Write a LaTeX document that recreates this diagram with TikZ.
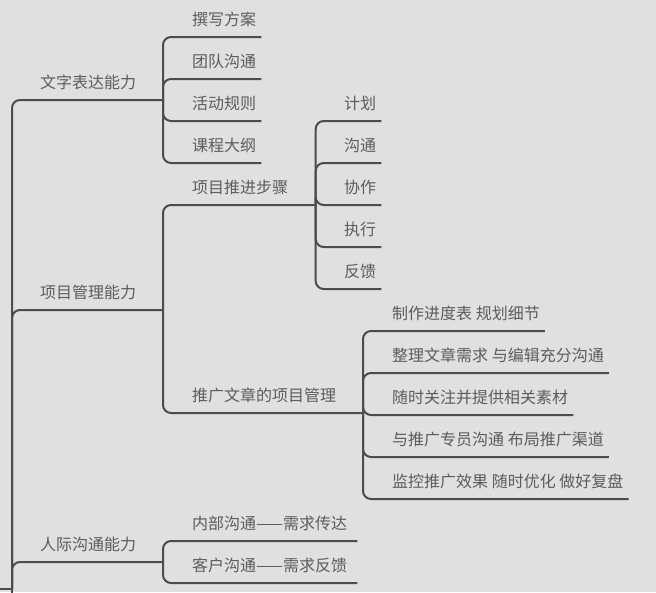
\documentclass[tikz,border=0pt]{standalone}
\usepackage{fontspec}
\setmainfont{Noto Sans CJK SC}
\usetikzlibrary{positioning}
\definecolor{canvas}{RGB}{224,224,224}
\definecolor{branchgray}{RGB}{76,76,76}
\definecolor{textgray}{RGB}{92,92,92}

\begin{document}
\begin{tikzpicture}[
  x=1pt, y=-1pt,
  font=\fontsize{16}{19}\selectfont,
  topic/.style={anchor=south west, inner xsep=5pt, inner ysep=0pt,
                text height=13pt, text depth=11pt, text=textgray},
  branch/.style={draw=branchgray, line width=2pt, rounded corners=8pt},
]
\fill[canvas] (0,0) rectangle (656,592);
\useasboundingbox (0,0) rectangle (656,592);
\clip (0,0) rectangle (656,592);

% junctions
\coordinate (root)       at (-20,589);
\coordinate (rootj)      at (12,589);
\coordinate (rootcut)    at (12,610);
\coordinate (wenzi-j)    at (163,100);
\coordinate (xiangmu-j)  at (163,310);
\coordinate (renji-j)    at (163,562);
\coordinate (tuijin-j)   at (315.7,205);
\coordinate (tuiguang-j) at (363,413);

% first level
\node[topic] (wenzi)   at (35,100) {文字表达能力};
\node[topic] (xiangmu) at (35,310) {项目管理能力};
\node[topic] (renji)   at (35,562) {人际沟通能力};

% second level
\node[topic] (zhuanxie) at (187,37)  {撰写方案};
\node[topic] (tuandui)  at (187,79)  {团队沟通};
\node[topic] (huodong)  at (187,121) {活动规则};
\node[topic] (kecheng)  at (187,163) {课程大纲};
\node[topic] (tuijin)   at (187,205) {项目推进步骤};
\node[topic] (tuiguang) at (187,413) {推广文章的项目管理};
\node[topic, text width=160pt] (neibu) at (187,541) {内部沟通——需求传达};
\node[topic, text width=160pt] (kehu)  at (187,583) {客户沟通——需求反馈};

% third level
\node[topic] (jihua)   at (339,121) {计划};
\node[topic] (goutong) at (339,163) {沟通};
\node[topic] (xiezuo)  at (339,205) {协作};
\node[topic] (zhixing) at (339,247) {执行};
\node[topic] (fankui)  at (339,289) {反馈};
\node[topic] (jindu)   at (387,331) {制作进度表 规划细节};
\node[topic] (xuqiu)   at (387,373) {整理文章需求 与编辑充分沟通};
\node[topic] (sucai)   at (387,415) {随时关注并提供相关素材};
\node[topic] (qudao)   at (387,457) {与推广专员沟通 布局推广渠道};
\node[topic] (fupan)   at (387,499) {监控推广效果 随时优化 做好复盘};

\draw[branch] (root) -- (rootj);
\draw[branch] (rootj) -- (rootcut);
\draw[branch] (rootj) |- (wenzi-j);
\draw[branch] (rootj) |- (xiangmu-j);
\draw[branch] (rootj) |- (renji-j);

\draw[branch] (wenzi-j) |- (zhuanxie.south east);
\draw[branch] (wenzi-j) |- (tuandui.south east);
\draw[branch] (wenzi-j) |- (huodong.south east);
\draw[branch] (wenzi-j) |- (kecheng.south east);

\draw[branch] (xiangmu-j) |- (tuijin-j);
\draw[branch] (xiangmu-j) |- (tuiguang-j);

\draw[branch] (tuijin-j) |- (jihua.south east);
\draw[branch] (tuijin-j) |- (goutong.south east);
\draw[branch] (tuijin-j) |- (xiezuo.south east);
\draw[branch] (tuijin-j) |- (zhixing.south east);
\draw[branch] (tuijin-j) |- (fankui.south east);

\draw[branch] (tuiguang-j) |- (jindu.south east);
\draw[branch] (tuiguang-j) |- (xuqiu.south east);
\draw[branch] (tuiguang-j) |- (sucai.south east);
\draw[branch] (tuiguang-j) |- (qudao.south east);
\draw[branch] (tuiguang-j) |- (fupan.south east);

\draw[branch] (renji-j) |- (neibu.south east);
\draw[branch] (renji-j) |- (kehu.south east);
\end{tikzpicture}
\end{document}
